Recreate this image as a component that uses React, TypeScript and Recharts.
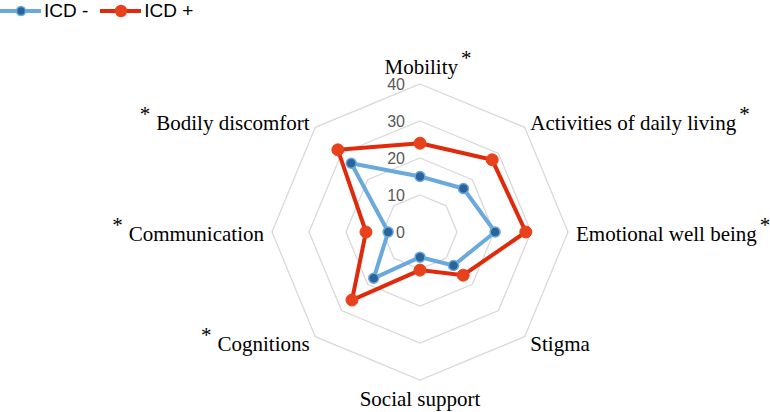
import React from "react";
import { RadarChart, Radar, PolarGrid, PolarAngleAxis, PolarRadiusAxis, Legend } from "recharts";

const categories = [
  "Mobility",
  "Activities of daily living",
  "Emotional well being",
  "Stigma",
  "Social support",
  "Cognitions",
  "Communication",
  "Bodily discomfort",
];
const significant = [true, true, true, false, false, true, true, true];
const icdMinus = [15, 16.6, 20.3, 12.8, 6.8, 17.7, 8.6, 26.3];
const icdPlus = [24, 27.6, 28.6, 16.5, 10.3, 26, 14.6, 31.4];
const radiusTicks = [0, 10, 20, 30, 40];
const seriesNames = ["ICD -", "ICD +"];

const data = categories.map((c, i) => ({
  axis: c,
  sig: significant[i],
  minus: icdMinus[i],
  plus: icdPlus[i],
}));

const SERIF = "'Liberation Serif', 'Times New Roman', serif";
const SANS = "'Liberation Sans', Arial, sans-serif";

const AngleTick = (props: any) => {
  const { x, y, payload } = props;
  const idx = categories.indexOf(payload.value);
  const sig = significant[idx];
  const ang = (payload.coordinate * Math.PI) / 180;
  const c = Math.cos(ang);
  const s = Math.sin(ang);
  let anchor: "start" | "middle" | "end" = "middle";
  if (c > 0.1) anchor = "start";
  else if (c < -0.1) anchor = "end";
  let by = y + 8.5;
  if (s > 0.9) by = y - 2;
  else if (s < -0.9) by = y + 18;
  const common = { fontFamily: SERIF, fontSize: 21, fill: "#000" };
  if (anchor === "end") {
    return (
      <text x={x} y={by} textAnchor="end" {...common}>
        {sig && <tspan dy={-9}>*</tspan>}
        {sig ? (
          <tspan dx={6} dy={9}>{payload.value}</tspan>
        ) : (
          <tspan>{payload.value}</tspan>
        )}
      </text>
    );
  }
  const shift = anchor === "middle" && sig ? 8 : 0;
  return (
    <text x={x + shift} y={by} textAnchor={anchor} {...common}>
      <tspan>{payload.value}</tspan>
      {sig && (
        <tspan dx={3} dy={-9}>
          *
        </tspan>
      )}
    </text>
  );
};

const RadiusTick = (props: any) => {
  const { x, y, payload } = props;
  return (
    <text x={x - 15} y={y + 6} textAnchor="end" fontFamily={SANS} fontSize={16} fill="#595959">
      {payload.value}
    </text>
  );
};

const renderLegend = (props: any) => {
  const payload = [...(props.payload || [])].sort(
    (a: any, b: any) => seriesNames.indexOf(a.value) - seriesNames.indexOf(b.value)
  );
  return (
    <div style={{ display: "flex", alignItems: "center", fontFamily: SANS, fontSize: 19, color: "#000" }}>
      {payload.map((p: any, i: number) => (
        <div key={i} style={{ display: "flex", alignItems: "center", marginRight: 12 }}>
          <svg width={41} height={14} style={{ display: "block" }}>
            <line x1={0} y1={7} x2={41} y2={7} stroke={p.color} strokeWidth={4} />
            <circle
              cx={21}
              cy={7}
              r={i === 0 ? 4.5 : 5.5}
              fill={p.payload.dot.fill}
              stroke={p.payload.dot.stroke}
              strokeWidth={1.5}
            />
          </svg>
          <span style={{ marginLeft: 3 }}>{p.value}</span>
        </div>
      ))}
    </div>
  );
};

export default function App() {
  return (
    <div style={{ position: "absolute", left: 0, top: 0, width: 770, height: 412 }}>
      <RadarChart
        width={770}
        height={412}
        data={data}
        cx={420}
        cy={232}
        outerRadius={148}
        margin={{ top: 0, right: 0, bottom: 0, left: 0 }}
      >
        <PolarGrid gridType="polygon" stroke="#d9d9d9" strokeWidth={1.3} radialLines={false} />
        <PolarAngleAxis dataKey="axis" tick={<AngleTick />} axisLine={false} tickLine={false} />
        <PolarRadiusAxis
          angle={90}
          domain={[0, 40]}
          ticks={radiusTicks as any}
          tickCount={5}
          axisLine={false}
          tickLine={false}
          tick={<RadiusTick />}
        />
        <Radar
          name={seriesNames[0]}
          dataKey="minus"
          stroke="#6aa9dc"
          strokeWidth={4}
          fill="none"
          fillOpacity={0}
          dot={{ r: 5, fill: "#2a6599", stroke: "#6aa9dc", strokeWidth: 1.5, fillOpacity: 1 }}
          isAnimationActive={false}
        />
        <Radar
          name={seriesNames[1]}
          dataKey="plus"
          stroke="#df2a0c"
          strokeWidth={4}
          fill="none"
          fillOpacity={0}
          dot={{ r: 6, fill: "#e8421c", stroke: "#e8421c", strokeWidth: 1, fillOpacity: 1 }}
          isAnimationActive={false}
        />
        <Legend
          content={renderLegend}
          wrapperStyle={{ position: "absolute", top: 0, left: 0, width: "auto" }}
          verticalAlign="top"
          align="left"
        />
      </RadarChart>
    </div>
  );
}
